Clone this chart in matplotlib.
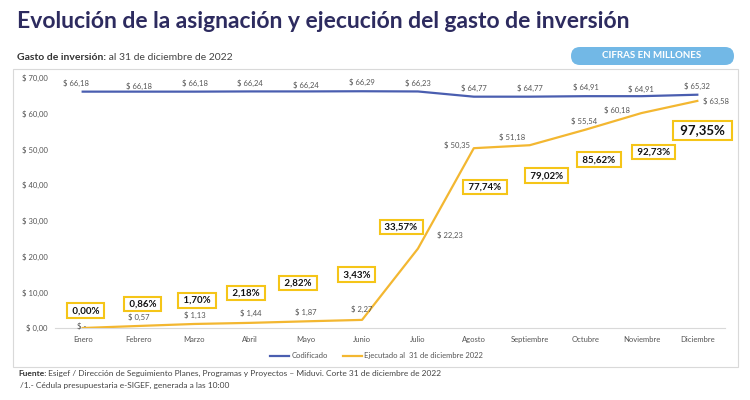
import numpy as np
import matplotlib.pyplot as plt
from matplotlib.patches import FancyBboxPatch, Rectangle

# data (millones USD)
meses = ["Enero", "Febrero", "Marzo", "Abril", "Mayo", "Junio", "Julio",
         "Agosto", "Septiembre", "Octubre", "Noviembre", "Diciembre"]
codificado = [66.18, 66.18, 66.18, 66.24, 66.24, 66.29, 66.23,
              64.77, 64.77, 64.91, 64.91, 65.32]
ejecutado = [0.0, 0.57, 1.13, 1.44, 1.87, 2.27, 22.23,
             50.35, 51.18, 55.54, 60.18, 63.58]
porcentaje = ["0,00%", "0,86%", "1,70%", "2,18%", "2,82%", "3,43%", "33,57%",
              "77,74%", "79,02%", "85,62%", "92,73%", "97,35%"]

# where the percent boxes sit (layout only)
box_x = [0.05, 1.07, 2.04, 2.93, 3.85, 4.9, 5.7, 7.2, 8.3, 9.24, 10.22, 11.1]
box_y = [4.8, 6.7, 7.7, 9.8, 12.6, 14.9, 28.3, 39.5, 42.6, 47.1, 49.3, 55.3]
# offsets (points) for the value labels
ej_off = [(-1, 1), (0, 3.5), (0, 3.5), (0, 4), (0, 3.5), (0, 5), (14, 7),
          (-3, 2), (-3, 3), (-1, 3), (-8, 2), (4, 0)]
cod_off = [(-5, 3.5), (0, 1.5), (0, 3.5), (0, 3.5), (0, 1.5), (0, 3.5), (0, 3.5),
           (0, 3.5), (0, 3.5), (0, 3.5), (0, 2), (0, 3.5)]

blue = "#4a5eb0"
gold = "#f3b731"
navy = "#2d2b5f"
grey = "#555555"

def money(v):
    if v == 0:
        return "$ -"
    return "$ " + f"{v:.2f}".replace(".", ",")

plt.rcParams['font.family'] = ['Lato', 'DejaVu Sans']
fig = plt.figure(figsize=(7.5, 4), dpi=100)

# background axes in pixel coords for frame, pill and texts
bg = fig.add_axes([0, 0, 1, 1], zorder=-1)
bg.set_xlim(0, 750)
bg.set_ylim(400, 0)
bg.axis("off")

bg.add_patch(Rectangle((13, 69), 725, 298, facecolor="white", edgecolor="#d9d9d9", lw=0.8))
bg.add_patch(FancyBboxPatch((571, 47), 163, 18, boxstyle="round,pad=0,rounding_size=9",
                            facecolor="#72b8e6", edgecolor="none"))
bg.text(652, 56, "CIFRAS EN MILLONES", fontsize=7, color="white",
        fontweight="bold", ha="center", va="center")

bg.text(17, 22, "Evolución de la asignación y ejecución del gasto de inversión",
        fontsize=16.5, fontweight="bold", color=navy, va="center")
t = bg.text(17, 57, "Gasto de inversión:", fontsize=7.5, fontweight="bold",
            color="#333333", va="center")
bg.annotate(" al 31 de diciembre de 2022", xy=(1, 0.5), xycoords=t,
            fontsize=7.5, color="#444444", va="center")

f = bg.text(18, 373, "Fuente:", fontsize=6, fontweight="bold", color="#333333", va="center")
bg.annotate(" Esigef / Dirección de Seguimiento Planes, Programas y Proyectos – Miduvi. Corte 31 de diciembre de 2022",
            xy=(1, 0.5), xycoords=f, fontsize=6, color="#444444", va="center")
bg.text(20, 385, "/1.- Cédula presupuestaria e-SIGEF, generada a las 10:00",
        fontsize=6, color="#444444", va="center")

ax = fig.add_axes([0.073, 0.18, 0.894, 0.625])
ax.set_facecolor("none")
x = np.arange(len(meses))
ax.plot(x, codificado, color=blue, lw=1.6, label="Codificado", zorder=3)
ax.plot(x, ejecutado, color=gold, lw=1.6, label="Ejecutado al  31 de diciembre 2022", zorder=3)

ax.set_xlim(-0.5, len(meses) - 0.5)
ax.set_ylim(0, 70)
ax.set_yticks(np.arange(0, 71, 10))
ax.set_yticklabels(["$ " + f"{v:.2f}".replace(".", ",") for v in np.arange(0, 71, 10)])
ax.set_xticks(x)
ax.set_xticklabels(meses)
ax.tick_params(axis="both", length=0, labelsize=5.5, labelcolor=grey)
ax.tick_params(axis="x", pad=6)
ax.tick_params(axis="y", pad=5)
for s in ["top", "right", "left"]:
    ax.spines[s].set_visible(False)
ax.spines["bottom"].set_color("#d9d9d9")

for i, v in enumerate(codificado):
    ax.annotate(money(v), (i, v), xytext=cod_off[i], textcoords="offset points",
                ha="center", va="bottom", fontsize=5.5, color=grey)
for i, v in enumerate(ejecutado):
    ha = "center"
    if ej_off[i][0] > 0:
        ha = "left"
    elif ej_off[i][0] < -2:
        ha = "right"
    ax.annotate(money(v), (i, v), xytext=ej_off[i], textcoords="offset points",
                ha=ha, va="center" if ej_off[i][1] < 3 else "bottom",
                fontsize=5.5, color=grey)

for i, p in enumerate(porcentaje):
    big = i == len(porcentaje) - 1
    ax.text(box_x[i], box_y[i], " " + p + " ", ha="center", va="center",
            fontsize=9.5 if big else 7, fontweight="bold", color="#111111",
            bbox=dict(boxstyle="square,pad=0.3", facecolor="white",
                      edgecolor="#f5c518", lw=1.5), zorder=5)

leg = ax.legend(loc="upper center", bbox_to_anchor=(0.48, -0.07), ncol=2,
                frameon=False, fontsize=5.5, handlelength=2.5, columnspacing=2,
                handletextpad=0.3)
for txt in leg.get_texts():
    txt.set_color(grey)

fig.savefig("out.png", dpi=100)
